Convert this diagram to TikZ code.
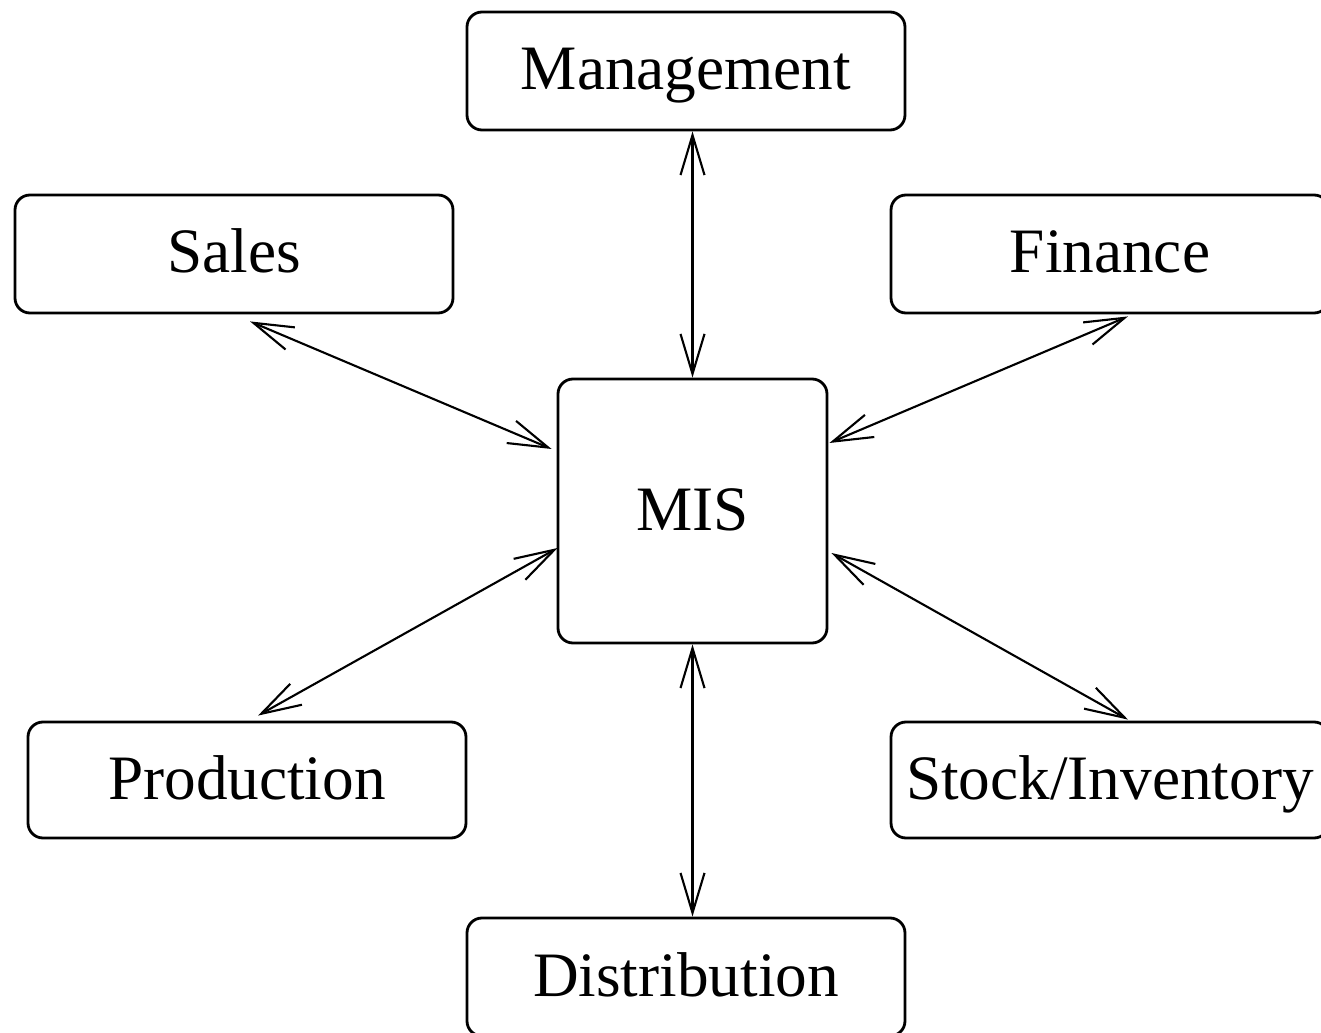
\documentclass[tikz,border=0pt]{standalone}
\usepackage{fontspec}
\setmainfont{Liberation Serif}
\usepackage{tikz}
\usetikzlibrary{arrows.meta}
\usetikzlibrary{calc}
\tikzset{box/.style = {draw, rounded corners = 1.5mm, line width = 0.8pt, inner sep = 0,
                       minimum width = 43.8mm, minimum height = 11.8mm,
                       text height = 5mm, text depth = 1.2mm,
                       font = \fontsize{18}{20}\selectfont}}
\tikzset{link/.style = {<->, >={Straight Barb[length = 4mm, width = 2.4mm]},
                        line width = 0.6pt}}

\begin{document}
\begin{tikzpicture}[x = 0.1mm, y = -0.1mm]
      \useasboundingbox (0, 0) rectangle (1321, 1033);

      \node (mis) at (692.5, 511) [box, minimum width = 26.9mm, minimum height = 26.4mm] {MIS};

      \node (mgmt) at (686, 71) [box] {Management};
      \node (sales) at (234, 254) [box] {Sales};
      \node (fin) at (1110, 254) [box] {Finance};
      \node (prod) at (247, 780) [box, minimum height = 11.6mm] {Production};
      \node (stock) at (1110, 780) [box, minimum height = 11.6mm] {Stock/Inventory};
      \node (dist) at (686, 977) [box] {Distribution};

      \draw [link] (mis.north |- mgmt.south) -- (mis.north);
      \draw [link] ($(sales.south)+(16, 7)$) -- ($(mis.west)+(-5, -62)$);
      \draw [link] ($(fin.south)+(18, 2)$) -- ($(mis.east)+(1, -68)$);
      \draw [link] ($(prod.north)+(11, -5)$) -- ($(mis.west)+(1, 37)$);
      \draw [link] ($(stock.north)+(18, -1)$) -- ($(mis.east)+(3, 42)$);
      \draw [link] (mis.south) -- (mis.south |- dist.north);
    \end{tikzpicture}
\end{document}
